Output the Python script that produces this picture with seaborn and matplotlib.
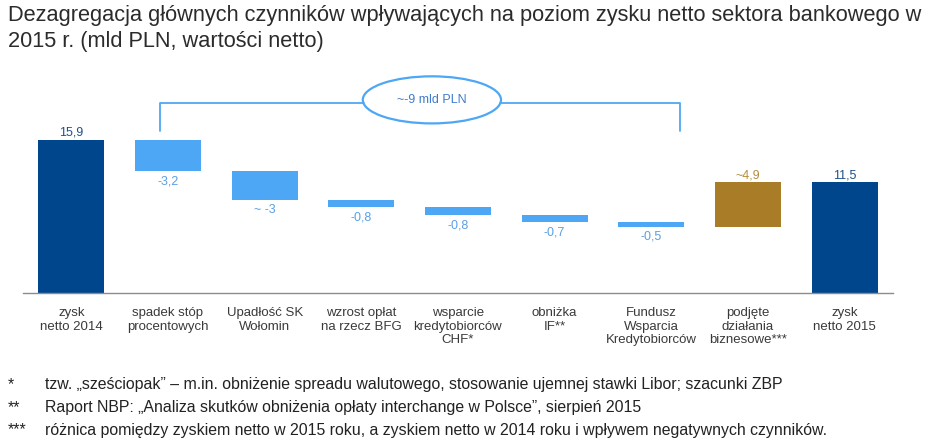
import matplotlib
matplotlib.use("Agg")
import matplotlib.pyplot as plt
import seaborn as sns
import numpy as np
import pandas as pd
from matplotlib.patches import Ellipse

# data
categories = ["zysk\nnetto 2014", "spadek stóp\nprocentowych", "Upadłość SK\nWołomin",
              "wzrost opłat\nna rzecz BFG", "wsparcie\nkredytobiorców\nCHF*", "obniżka\nIF**",
              "Fundusz\nWsparcia\nKredytobiorców", "podjęte\ndziałania\nbiznesowe***",
              "zysk\nnetto 2015"]
values = [15.9, -3.2, -3, -0.8, -0.8, -0.7, -0.5, 4.9, 11.5]
kinds = ["total", "neg", "neg", "neg", "neg", "neg", "neg", "pos", "total"]
approx = ["", "", "~ ", "", "", "", "", "~", ""]
bracket_label = "~-9 mld PLN"

title = ("Dezagregacja głównych czynników wpływających na poziom zysku netto sektora bankowego w\n"
         "2015 r. (mld PLN, wartości netto)")
notes_marks = ["*", "**", "***"]
notes_text = ["tzw. „sześciopak” – m.in. obniżenie spreadu walutowego, stosowanie ujemnej stawki Libor; szacunki ZBP",
              "Raport NBP: „Analiza skutków obniżenia opłaty interchange w Polsce”, sierpień 2015",
              "różnica pomiędzy zyskiem netto w 2015 roku, a zyskiem netto w 2014 roku i wpływem negatywnych czynników."]

bar_colors = {"total": "#00468c", "neg": "#4ea7f5", "pos": "#a97d27"}
text_colors = {"total": "#1f4f8f", "neg": "#5a9fe6", "pos": "#b48c3c"}

# waterfall bottoms / heights
bottoms, heights = [], []
level = 0.0
for v, k in zip(values, kinds):
    if k == "total":
        bottoms.append(0.0)
        heights.append(v)
        level = v
    elif k == "neg":
        bottoms.append(level + v)
        heights.append(-v)
        level = level + v
    else:
        top = values[-1]
        bottoms.append(level)
        heights.append(top - level)
        level = top

df = pd.DataFrame({"cat": categories, "height": heights})

sns.set_style("white")
plt.rcParams["font.family"] = ["Liberation Sans", "DejaVu Sans"]

fig = plt.figure(figsize=(9.45, 4.45), dpi=100)
ax = fig.add_axes([23 / 945, 152 / 445, 870 / 945, 221 / 445])

sns.barplot(data=df, x="cat", y="height", ax=ax, width=0.68, color="#4ea7f5",
            saturation=1, linewidth=0)
for p, b, k in zip(ax.patches, bottoms, kinds):
    p.set_y(b)
    p.set_facecolor(bar_colors[k])

ax.set_xlim(-0.5, len(categories) - 0.5)
ax.set_ylim(0, 23)
ax.set_xlabel("")
ax.set_ylabel("")
ax.set_yticks([])
for s in ["top", "right", "left"]:
    ax.spines[s].set_visible(False)
ax.spines["bottom"].set_color("#8c8c8c")
ax.spines["bottom"].set_linewidth(1.0)

ax.set_xticks(range(len(categories)))
ax.set_xticklabels(categories, fontsize=9.5, color="#3a3a3a", linespacing=1.2)
ax.tick_params(axis="x", which="major", length=0, pad=10)
ax.set_xticks(np.arange(-0.5, len(categories)), minor=True)
ax.tick_params(axis="x", which="minor", length=5, color="#8c8c8c", direction="out")

# value labels
for i, (v, k, b, h) in enumerate(zip(values, kinds, bottoms, heights)):
    txt = approx[i] + f"{v:g}".replace(".", ",")
    if k == "neg":
        ax.annotate(txt, (i, b), xytext=(0, -3), textcoords="offset points",
                    ha="center", va="top", fontsize=9, color=text_colors[k])
    else:
        ax.annotate(txt, (i, b + h), xytext=(0, 1), textcoords="offset points",
                    ha="center", va="bottom", fontsize=9, color=text_colors[k])

# bracket with ellipse
bc = "#4ea7f5"
ex, ey, ew, eh = 3.73, 20.1, 1.43, 4.9
x_left, x_right = 0.92, 6.30
y_low, y_line = 16.9, 19.75
ax.plot([x_left, x_left, ex - ew / 2 * 0.985], [y_low, y_line, y_line], color=bc, lw=1.3,
        clip_on=False, solid_joinstyle="round")
ax.plot([ex + ew / 2 * 0.985, x_right, x_right], [y_line, y_line, y_low], color=bc, lw=1.3,
        clip_on=False, solid_joinstyle="round")
ax.add_patch(Ellipse((ex, ey), ew, eh, fill=False, edgecolor=bc, lw=1.6, clip_on=False))
ax.text(ex, ey, bracket_label, ha="center", va="center", fontsize=9, color="#3f7ccc")

# title and notes
fig.text(8 / 945, 1 - 5 / 445, title, ha="left", va="top", fontsize=15.7,
         color="#2b2b2b", linespacing=1.32)
for j, (m, t) in enumerate(zip(notes_marks, notes_text)):
    y = 1 - (385 + j * 22.5) / 445
    fig.text(8 / 945, y, m, ha="left", va="center", fontsize=11.4, color="#222222")
    fig.text(45 / 945, y, t, ha="left", va="center", fontsize=11.4, color="#222222")

fig.savefig("out.png", dpi=100)
